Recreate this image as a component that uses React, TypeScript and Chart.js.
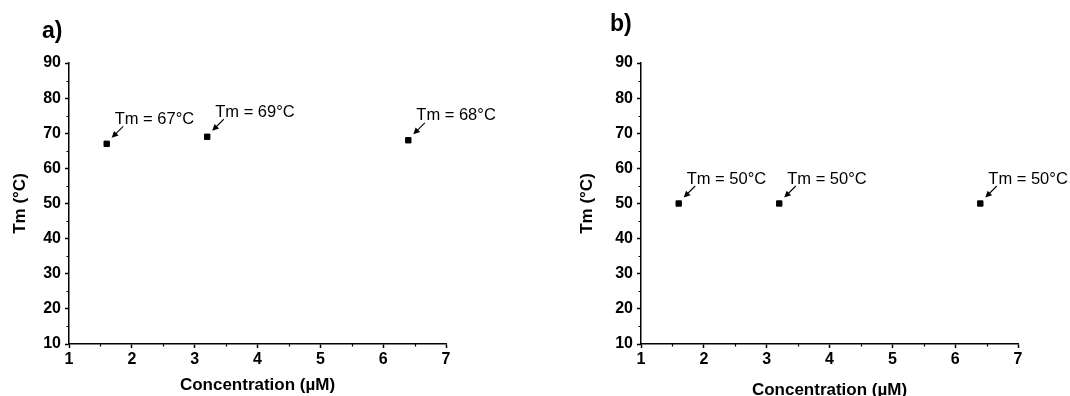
import React, { useEffect, useRef } from 'react';
import { Chart, registerables } from 'chart.js';

Chart.register(...registerables);

// ---- Data ----
const concentrationsA = [1.6, 3.2, 6.4];
const tmValuesA = [67, 69, 68];
const annotationsA = ['Tm = 67°C', 'Tm = 69°C', 'Tm = 68°C'];

const concentrationsB = [1.6, 3.2, 6.4];
const tmValuesB = [50, 50, 50];
const annotationsB = ['Tm = 50°C', 'Tm = 50°C', 'Tm = 50°C'];

const xTickValues = [1, 2, 3, 4, 5, 6, 7];
const xMinorTicks = [1.5, 2.5, 3.5, 4.5, 5.5, 6.5];
const yTickValues = [10, 20, 30, 40, 50, 60, 70, 80, 90];
const yMinorTicks = [15, 25, 35, 45, 55, 65, 75, 85];

const xTitle = 'Concentration (µM)';
const yTitle = 'Tm (°C)';

const FONT = "'Liberation Sans', Arial, sans-serif";

const decorPlugin = {
  id: 'decor',
  afterDraw(chart: any, _args: any, opts: any) {
    const { ctx, chartArea } = chart;
    const xs = chart.scales.x;
    const ys = chart.scales.y;
    ctx.save();
    // minor ticks
    ctx.strokeStyle = '#000';
    ctx.lineWidth = 1.2;
    ctx.beginPath();
    for (const v of xMinorTicks) {
      const px = Math.round(xs.getPixelForValue(v)) + 0.5;
      ctx.moveTo(px, chartArea.bottom);
      ctx.lineTo(px, chartArea.bottom + 2.5);
    }
    for (const v of yMinorTicks) {
      const py = Math.round(ys.getPixelForValue(v)) + 0.5;
      ctx.moveTo(chartArea.left, py);
      ctx.lineTo(chartArea.left - 2.5, py);
    }
    ctx.stroke();

    // annotations
    const xsData: number[] = opts.xs;
    const ysData: number[] = opts.ys;
    const labels: string[] = opts.labels;
    ctx.fillStyle = '#000';
    ctx.font = `16.5px ${FONT}`;
    ctx.textBaseline = 'alphabetic';
    ctx.textAlign = 'left';
    for (let i = 0; i < xsData.length; i++) {
      const px = xs.getPixelForValue(xsData[i]);
      const py = ys.getPixelForValue(ysData[i]);
      ctx.fillText(labels[i], px + 8, py - 20);
      // arrow
      const tx = px + 16.5, ty = py - 17.5;
      const hx = px + 5, hy = py - 6;
      ctx.beginPath();
      ctx.lineWidth = 1.1;
      ctx.moveTo(tx, ty);
      ctx.lineTo(hx + 2.5, hy - 2.5);
      ctx.stroke();
      const ang = Math.atan2(hy - ty, hx - tx);
      const len = 6.5, w = 3.2;
      ctx.beginPath();
      ctx.moveTo(hx, hy);
      ctx.lineTo(hx - len * Math.cos(ang) + w * Math.sin(ang), hy - len * Math.sin(ang) - w * Math.cos(ang));
      ctx.lineTo(hx - len * Math.cos(ang) - w * Math.sin(ang), hy - len * Math.sin(ang) + w * Math.cos(ang));
      ctx.closePath();
      ctx.fill();
    }

    // panel letter
    ctx.font = `bold 23px ${FONT}`;
    ctx.textBaseline = 'alphabetic';
    ctx.fillText(opts.letter, opts.letterX, opts.letterY);
    ctx.restore();
  },
};

type PanelProps = {
  xs: number[];
  ys: number[];
  labels: string[];
  letter: string;
  letterX: number;
  letterY: number;
  yAxisWidth: number;
  rightPad: number;
  yTitlePad: number;
  xTitlePad: number;
  left: number;
};

function Panel(p: PanelProps) {
  const ref = useRef<HTMLCanvasElement>(null);
  useEffect(() => {
    if (!ref.current) return;
    const tickFont = { family: FONT, size: 16, weight: 'bold' as const };
    const titleFont = { family: FONT, size: 17, weight: 'bold' as const };
    const chart = new Chart(ref.current, {
      type: 'scatter',
      data: {
        datasets: [
          {
            data: p.xs.map((x, i) => ({ x, y: p.ys[i] })),
            pointStyle: 'rect',
            pointRadius: 3.8,
            borderWidth: 1,
            backgroundColor: '#000',
            borderColor: '#000',
          },
        ],
      },
      plugins: [decorPlugin],
      options: {
        responsive: false,
        animation: false,
        layout: { padding: { left: 0, top: 63, right: p.rightPad, bottom: 0 } },
        plugins: {
          legend: { display: false },
          tooltip: { enabled: false },
          decor: { xs: p.xs, ys: p.ys, labels: p.labels, letter: p.letter, letterX: p.letterX, letterY: p.letterY },
        } as any,
        scales: {
          x: {
            type: 'linear',
            min: 1,
            max: 7,
            afterBuildTicks: (s: any) => {
              s.ticks = xTickValues.map((v) => ({ value: v }));
            },
            afterFit: (s: any) => {
              s.height = 52;
            },
            border: { display: true, color: '#000', width: 1.5 },
            grid: { display: true, drawOnChartArea: false, drawTicks: true, tickLength: 4, tickColor: '#000', tickWidth: 1.5 },
            ticks: { color: '#000', font: tickFont, padding: 2, maxRotation: 0, autoSkip: false },
            title: { display: true, text: xTitle, color: '#000', font: titleFont, padding: { top: 0, bottom: p.xTitlePad } },
          },
          y: {
            type: 'linear',
            min: 10,
            max: 90,
            afterBuildTicks: (s: any) => {
              s.ticks = yTickValues.map((v) => ({ value: v }));
            },
            afterFit: (s: any) => {
              s.width = p.yAxisWidth;
            },
            border: { display: true, color: '#000', width: 1.5 },
            grid: { display: true, drawOnChartArea: false, drawTicks: true, tickLength: 4, tickColor: '#000', tickWidth: 1.5 },
            ticks: { color: '#000', font: tickFont, padding: 4, autoSkip: false },
            title: { display: true, text: yTitle, color: '#000', font: titleFont, padding: { top: p.yTitlePad, bottom: 0 } },
          },
        },
      },
    } as any);
    return () => chart.destroy();
  }, []);
  return (
    <canvas
      ref={ref}
      width={535}
      height={396}
      style={{ position: 'absolute', left: p.left, top: 0, width: 535, height: 396, display: 'block' }}
    />
  );
}

export default function App() {
  return (
    <div style={{ position: 'absolute', left: 0, top: 0, width: 1070, height: 396, background: '#fff', overflow: 'hidden' }}>
      <Panel
        xs={concentrationsA}
        ys={tmValuesA}
        labels={annotationsA}
        letter="a)"
        letterX={42}
        letterY={38}
        yAxisWidth={69}
        rightPad={89}
        yTitlePad={9.8}
        xTitlePad={0.8}
        left={0}
      />
      <Panel
        xs={concentrationsB}
        ys={tmValuesB}
        labels={annotationsB}
        letter="b)"
        letterX={75}
        letterY={31}
        yAxisWidth={106}
        rightPad={52}
        yTitlePad={41.8}
        xTitlePad={-4.2}
        left={535}
      />
    </div>
  );
}
